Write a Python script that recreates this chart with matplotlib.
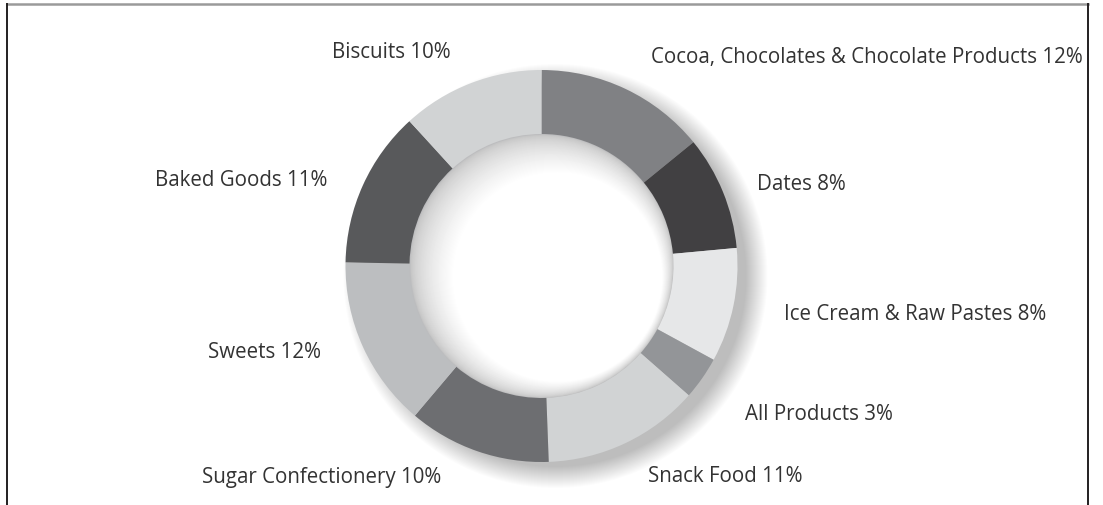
import numpy as np
import matplotlib
matplotlib.use('Agg')
import matplotlib.pyplot as plt
from matplotlib.patches import Circle
from matplotlib.lines import Line2D

# segments clockwise from 12 o'clock
labels = ['Cocoa, Chocolates & Chocolate Products', 'Dates', 'Ice Cream & Raw Pastes',
          'All Products', 'Snack Food', 'Sugar Confectionery', 'Sweets',
          'Baked Goods', 'Biscuits']
shares = [12, 8, 8, 3, 11, 10, 12, 11, 10]
colors = ['#808184', '#414042', '#e6e7e8', '#939598', '#d1d3d4',
          '#6d6e71', '#bcbec0', '#58595b', '#d1d3d4']

# where each label sits (pixel x, pixel y from top), centered
label_pos = [(867, 57), (801, 185), (915, 315), (819, 415), (725, 477),
             (322, 477), (265, 352), (241, 180), (391, 52)]

W, H = 1103, 505
fig = plt.figure(figsize=(W / 100, H / 100), dpi=100)
ax = fig.add_axes([0, 0, 1, 1])

cx, cy = 541.5, H - 266
R_out, R_in, R_hole = 196, 132, 105

# soft drop shadow to lower right
for k in range(22):
    ax.add_patch(Circle((cx + 14, cy - 10), R_out + 16 - k, color='black',
                        alpha=0.013, lw=0, zorder=0))

# ring
ax.pie(shares, colors=colors, startangle=90, counterclock=False,
       radius=R_out, center=(cx, cy),
       wedgeprops=dict(width=R_out - R_in, linewidth=0, zorder=2))

# inner shadow inside the hole
ax.add_patch(Circle((cx, cy), R_in, color='#bdbec0', lw=0, zorder=1))
n = 40
for i in range(1, n + 1):
    t = i / n
    g = 0.75 + 0.25 * (t ** 0.6)
    ax.add_patch(Circle((cx + 16 * t, cy - 11 * t), R_in - (R_in - R_hole) * t,
                        color=(g, g, g), lw=0, zorder=1))

for lab, s, (x, y) in zip(labels, shares, label_pos):
    ax.text(x, H - y, f'{lab} {s}%', ha='center', va='center', fontsize=14.8,
            family='Open Sans', color='#333333', zorder=5)

# frame (open at the bottom)
ax.add_line(Line2D([7, 1088], [H - 4, H - 4], color='#9a9a9a', lw=1.8, zorder=6))
ax.add_line(Line2D([7, 7], [H - 4, 0], color='#231f20', lw=1.4, zorder=6))
ax.add_line(Line2D([1088, 1088], [H - 4, 0], color='#231f20', lw=1.4, zorder=6))

ax.set_xlim(0, W)
ax.set_ylim(0, H)
ax.set_aspect('auto')
ax.axis('off')

fig.savefig('out.png', dpi=100, facecolor='white')
